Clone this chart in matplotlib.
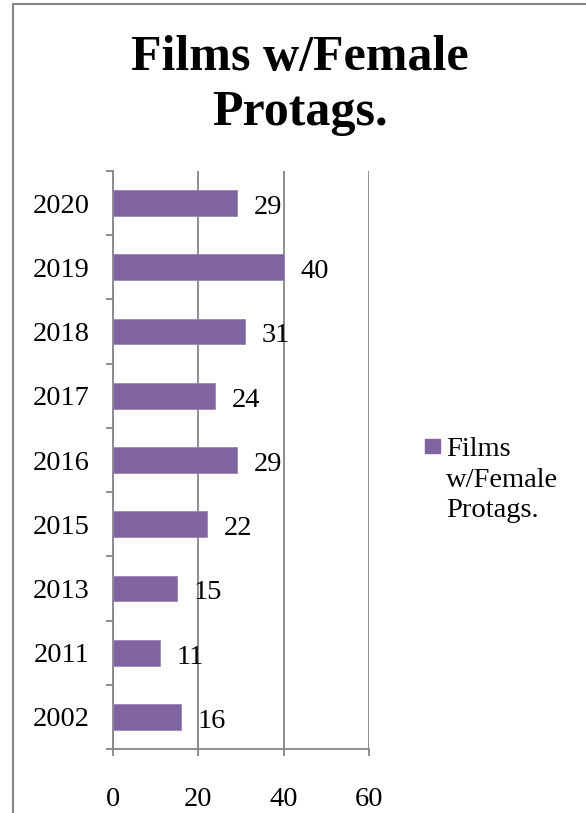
import matplotlib
matplotlib.use("Agg")
import matplotlib.pyplot as plt
from matplotlib.lines import Line2D
from matplotlib.patches import Rectangle
import numpy as np

years = ["2002", "2011", "2013", "2015", "2016", "2017", "2018", "2019", "2020"]
values = [16, 11, 15, 22, 29, 24, 31, 40, 29]
x_ticks = [0, 20, 40, 60]
title_lines = ["Films w/Female", "Protags."]
legend_lines = ["Films", "w/Female", "Protags."]

W, H = 586, 813
DPI = 100
fig = plt.figure(figsize=(W / DPI, H / DPI), dpi=DPI)
serif = ["Liberation Serif", "DejaVu Serif"]
plt.rcParams['font.family'] = serif

bar_color = "#8064A2"
grid_color = "#868686"
FS = 20.5

ax = fig.add_axes([113 / W, (H - 749) / H, (369 - 113) / W, (749 - 171) / H])
y = np.arange(len(years))
ax.barh(y, values, height=0.4, color=bar_color, edgecolor="#9B85B8", linewidth=0.6, zorder=3)
ax.set_ylim(-0.5, len(years) - 0.5)
ax.set_xlim(0, 60)
ax.set_xticks(x_ticks)
ax.set_xticklabels([str(t) for t in x_ticks], fontsize=FS)
ax.set_yticks(y)
ax.set_yticklabels(years, fontsize=FS)
ax.set_yticks(np.arange(-0.5, len(years), 1.0), minor=True)
ax.tick_params(axis='y', which='major', length=0, pad=17)
ax.tick_params(axis='y', which='minor', length=5, width=1.3, color=grid_color)
ax.tick_params(axis='x', which='major', length=5, width=1.3, color=grid_color, pad=22)
for lbl in ax.get_yticklabels():
    lbl.set_verticalalignment('center_baseline')
ax.grid(axis='x', color=grid_color, linewidth=1.3, zorder=0)
for s in ['top', 'right']:
    ax.spines[s].set_visible(False)
for s in ['left', 'bottom']:
    ax.spines[s].set_color(grid_color)
    ax.spines[s].set_linewidth(1.3)

for yi, v in zip(y, values):
    ax.annotate(str(v), (v, yi), xytext=(12, -1), textcoords='offset points',
                va='center_baseline', ha='left', fontsize=FS, zorder=4)

# title: two lines placed on their baselines
for line, base in zip(title_lines, [70, 125]):
    fig.text(300 / W, 1 - base / H, line, ha='center', va='baseline', fontsize=36,
             fontweight='bold', family=serif)

# legend
fig.patches.append(Rectangle((425 / W, 1 - 453 / H), 15 / W, 14 / H,
                             transform=fig.transFigure, color=bar_color))
for line, base in zip(legend_lines, [456, 487, 517]):
    fig.text(446 / W, 1 - base / H, line, ha='left', va='baseline', fontsize=FS)

# chart border
fig.add_artist(Line2D([12.5 / W, 12.5 / W], [0, 1 - 4.5 / H], color=grid_color, linewidth=1.5,
                      transform=fig.transFigure))
fig.add_artist(Line2D([12.5 / W, 1], [1 - 4.5 / H, 1 - 4.5 / H], color=grid_color, linewidth=1.5,
                      transform=fig.transFigure))

fig.savefig("out.png", dpi=DPI)
